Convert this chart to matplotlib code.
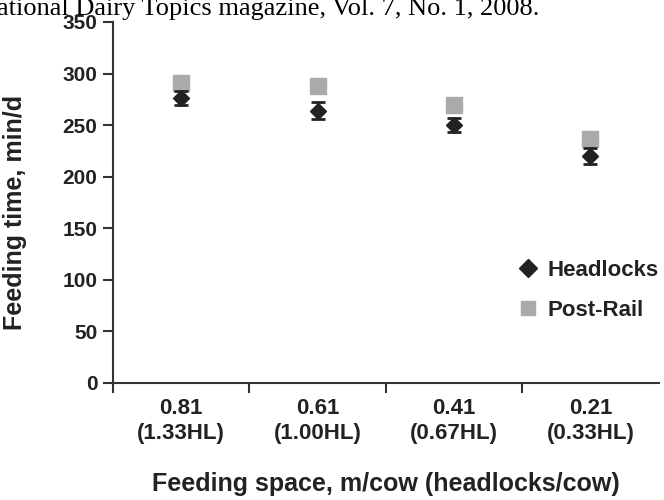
import numpy as np
import matplotlib.pyplot as plt
from matplotlib.lines import Line2D

plt.rcParams['font.family'] = ['Liberation Sans', 'DejaVu Sans']

space_labels = ["0.81\n(1.33HL)", "0.61\n(1.00HL)", "0.41\n(0.67HL)", "0.21\n(0.33HL)"]
headlocks = [276, 264, 250, 220]
headlocks_err = [7, 8, 7, 8]
post_rail = [291, 288, 269, 236]
y_ticks = [0, 50, 100, 150, 200, 250, 300, 350]

dark = '#222222'
grey = '#aaaaaa'

fig = plt.figure(figsize=(6.64, 5.0), dpi=100)
ax = fig.add_axes([0.17, 0.2346, 0.822, 0.7214])

x = np.arange(len(space_labels))
ax.plot(x, post_rail, 's', color=grey, markersize=11, zorder=2, label='Post-Rail')
ax.errorbar(x, headlocks, yerr=headlocks_err, fmt='D', color=dark, markersize=8,
            elinewidth=1.6, capsize=5, capthick=2, zorder=3, label='Headlocks')

ax.set_xlim(-0.5, 3.5)
ax.set_ylim(0, 350)
ax.set_yticks(y_ticks)
ax.set_yticklabels([str(v) for v in y_ticks], fontsize=15, fontweight='bold', color=dark)

# separator ticks between groups, labels centred on groups
ax.set_xticks([-0.5, 0.5, 1.5, 2.5])
ax.set_xticklabels([])
ax.set_xticks(x, minor=True)
ax.set_xticklabels(space_labels, minor=True, fontsize=16, fontweight='bold', color=dark,
                   linespacing=1.25)
ax.tick_params(axis='x', which='minor', length=0, pad=11)
ax.tick_params(axis='both', which='major', length=7, width=1.5, color='#333333')
ax.tick_params(axis='y', pad=4)

for s in ['top', 'right']:
    ax.spines[s].set_visible(False)
for s in ['left', 'bottom']:
    ax.spines[s].set_linewidth(1.5)
    ax.spines[s].set_color('#333333')

ax.set_ylabel("Feeding time, min/d", fontsize=18, fontweight='bold', color=dark)
ax.yaxis.set_label_coords(-0.157, 0.473)
ax.set_xlabel("Feeding space, m/cow (headlocks/cow)", fontsize=18, fontweight='bold',
              color=dark, labelpad=20)

handles = [Line2D([], [], marker='D', linestyle='', color=dark, markersize=9),
           Line2D([], [], marker='s', linestyle='', color=grey, markersize=10)]
ax.legend(handles, ['Headlocks', 'Post-Rail'], loc='center left',
          bbox_to_anchor=(0.72, 0.256), frameon=False, handlelength=1,
          handletextpad=0.36, borderpad=0, labelspacing=0.85,
          prop={'size': 16, 'weight': 'bold'}, labelcolor=dark)

fig.text(-0.005, 0.97, "ational Dairy Topics magazine, Vol. 7, No. 1, 2008.",
         family='Liberation Serif', fontsize=19, va='baseline', ha='left', color='black')

fig.savefig('out.png', dpi=100)
